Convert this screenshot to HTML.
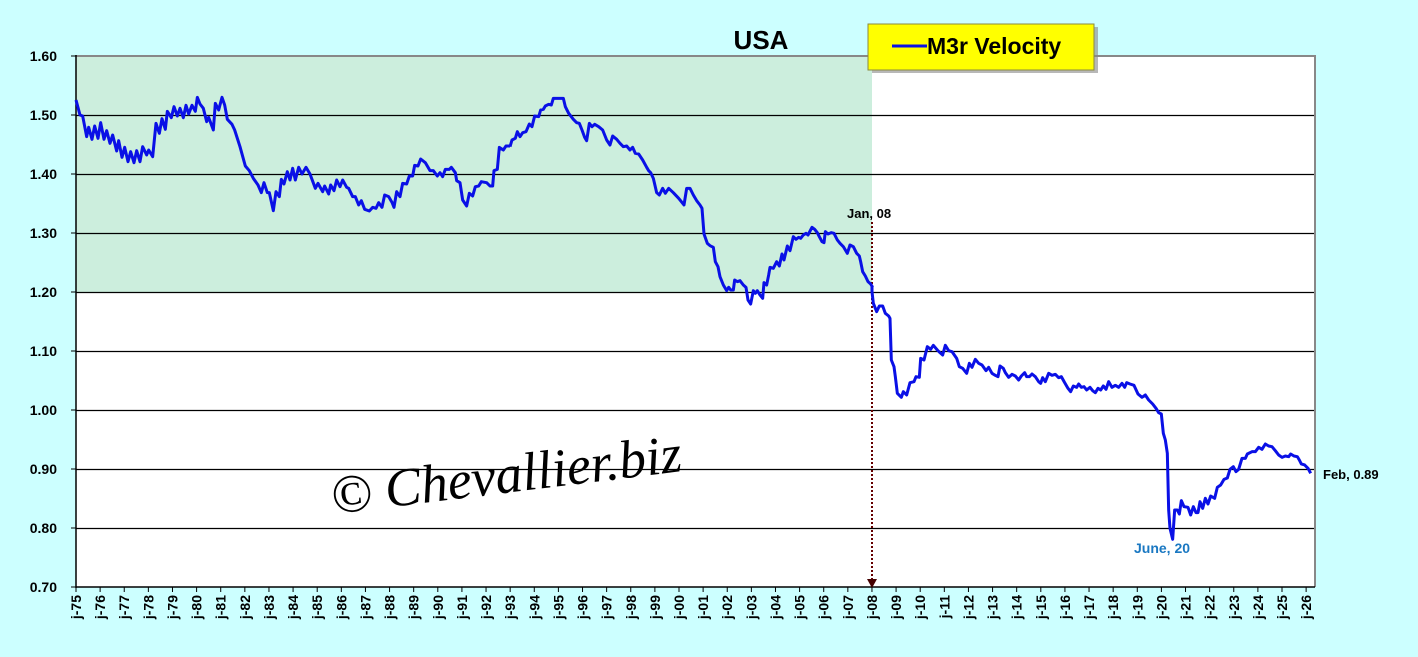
<!DOCTYPE html>
<html><head><meta charset="utf-8"><style>
html,body{margin:0;padding:0;background:#ccffff;width:1418px;height:657px;overflow:hidden}
text{font-family:"Liberation Sans",Arial,sans-serif;font-weight:bold}
</style></head><body>
<svg width="1418" height="657" viewBox="0 0 1418 657" xmlns="http://www.w3.org/2000/svg">
<rect x="0" y="0" width="1418" height="657" fill="#ccffff"/>
<rect x="76" y="56" width="1239" height="531" fill="#fff"/>
<rect x="76" y="56" width="796" height="236" fill="#cceedd"/>
<g stroke="#000" stroke-width="1.2">
<line x1="76" x2="1315" y1="115.5" y2="115.5"/><line x1="76" x2="1315" y1="174.5" y2="174.5"/>
<line x1="76" x2="1315" y1="233.5" y2="233.5"/><line x1="76" x2="1315" y1="292.5" y2="292.5"/>
<line x1="76" x2="1315" y1="351.5" y2="351.5"/><line x1="76" x2="1315" y1="410.5" y2="410.5"/>
<line x1="76" x2="1315" y1="469.5" y2="469.5"/><line x1="76" x2="1315" y1="528.5" y2="528.5"/>
</g>
<line x1="76" x2="1316" y1="56" y2="56" stroke="#888" stroke-width="2"/>
<line x1="1315" x2="1315" y1="56" y2="587" stroke="#888" stroke-width="2"/>
<line x1="76" x2="76" y1="55" y2="588" stroke="#000" stroke-width="1.5"/>
<line x1="76" x2="1315" y1="587" y2="587" stroke="#000" stroke-width="1.5"/>
<g stroke="#000">
<line x1="71" x2="76" y1="56" y2="56"/><line x1="71" x2="76" y1="115" y2="115"/><line x1="71" x2="76" y1="174" y2="174"/><line x1="71" x2="76" y1="233" y2="233"/><line x1="71" x2="76" y1="292" y2="292"/><line x1="71" x2="76" y1="351" y2="351"/><line x1="71" x2="76" y1="410" y2="410"/><line x1="71" x2="76" y1="469" y2="469"/><line x1="71" x2="76" y1="528" y2="528"/><line x1="71" x2="76" y1="587" y2="587"/>
</g>
<g font-size="14" text-anchor="end">
<text x="57" y="61">1.60</text><text x="57" y="120">1.50</text><text x="57" y="179">1.40</text><text x="57" y="238">1.30</text><text x="57" y="297">1.20</text><text x="57" y="356">1.10</text><text x="57" y="415">1.00</text><text x="57" y="474">0.90</text><text x="57" y="533">0.80</text><text x="57" y="592">0.70</text>
</g>
<text x="333" y="514" transform="rotate(-7 333 514)" font-style="italic" font-size="54" fill="#000" style="font-family:'Liberation Serif',serif;font-weight:normal">© Chevallier.biz</text>
<line x1="872" x2="872" y1="222" y2="580" stroke="#600" stroke-width="2" stroke-dasharray="2,2"/>
<polygon points="867,579 877,579 872,588" fill="#400"/>
<g fill="none" stroke="#0a10e6" stroke-width="3" stroke-linejoin="round">
<polyline vector-effect="non-scaling-stroke" transform="translate(60,40) scale(0.33333)" points="48,180 60,225 68,228 80,290 86,262 96,298 104,258 114,295 122,248 132,298 140,272 150,310 158,285 170,333 176,302 186,352 194,322 204,365 212,335 222,368 230,332 240,365 248,320 260,345 266,330 278,350 288,250 298,280 306,236 316,268 322,214 334,233 342,200 352,228 360,205 370,233 378,196 386,222 396,196 406,214 412,172 420,192 430,205 440,245 446,232 460,270 466,190 476,210 486,172 494,195 502,238 516,253 524,270 540,320 556,378 568,392 580,415 594,435 604,458 612,428 622,458 628,458 640,512 648,455 658,470 664,418 672,432 682,395 690,420 698,385 706,420 716,382 726,402 738,382 750,402 766,445 774,430 788,455 794,438 806,462 812,435 822,452 830,420 840,440 848,420 860,442 866,445 878,470 886,470 896,495 904,482 914,508 928,513 938,502 948,505 956,488 966,502 974,465 986,470 996,487 1002,502 1010,455 1020,470 1028,430 1040,432 1048,408 1058,408 1064,376 1074,378 1082,357 1096,368 1110,392 1120,392 1132,408 1140,398 1148,410 1156,388 1168,388 1174,382 1186,398 1190,422 1200,428 1208,480 1220,498 1228,460 1238,468 1246,440 1256,438 1264,425 1280,428 1290,438 1298,438 1302,392 1312,388 1318,322 1330,330 1338,318 1350,318"/>
<polyline vector-effect="non-scaling-stroke" transform="translate(480,80) scale(0.33333)" points="90,200 96,180 106,175 112,155 120,170 128,158 138,155 148,132 156,140 164,108 176,110 182,90 190,88 196,78 206,73 214,75 220,55 250,55 256,80 266,100 280,118 290,128 298,130 306,150 314,172 320,182 328,130 336,140 344,133 356,140 368,150 380,180 390,195 398,168 410,178 420,190 430,200 440,198 450,210 458,202 466,220 476,222 488,240 500,262 506,272 512,278 520,295 530,338 538,345 548,325 556,340 566,325 580,338 596,355 612,375 620,325 630,325 640,345 650,362 660,375 666,385 672,462 682,490 690,497 700,502 706,545 714,560 720,590 730,615 740,632 746,622 752,630 760,630 764,600 772,605 780,602 790,615 798,622 804,660 812,672 820,632 826,640 832,632 840,645 848,655 852,608 860,615 866,585 870,562 880,565 890,545 898,558 906,522 912,540 922,498 930,512 940,470 948,478 956,472 962,475 970,465 978,460 984,465 996,442 1004,448 1012,458 1018,470 1026,485 1032,488 1036,455 1044,462 1054,458 1062,460 1072,480 1080,490 1090,500 1102,520 1110,495 1120,500 1130,520 1138,528 1142,545 1148,575 1156,588 1164,605 1172,612 1178,622"/>
<polyline vector-effect="non-scaling-stroke" transform="translate(860,280) scale(0.33333)" points="36,20 36,35 40,70 50,95 58,78 68,78 76,100 86,108 90,115 94,240 102,260 106,290 112,340 124,352 130,335 140,345 150,308 162,305 168,290 178,292 182,235 192,240 202,200 212,208 220,196 232,210 240,218 248,225 256,196 266,212 276,215 290,235 298,260 308,265 320,280 328,250 336,262 346,238 356,250 366,255 378,272 386,262 396,280 404,285 414,290 420,258 430,265 436,278 446,292 456,283 466,288 476,300 484,288 494,278 500,290 508,290 516,282 526,290 536,305 542,310 548,293 556,305 566,280 576,286 586,283 596,293 604,290 614,308 624,325 632,335 640,318 650,322 656,312 664,322 672,320 680,330 690,322 698,332 706,338 714,325 722,330 730,318 738,328 746,305 756,322 766,316 776,322 786,310 794,322 800,308 810,312 822,316 834,342 846,352 856,345 866,360 878,372 888,385 896,398 904,402 910,460 916,480 922,520 926,690 930,745 938,778 944,690 952,690 958,702 964,662 972,680 984,682 992,705 1000,680 1008,698 1014,698 1020,665 1028,685 1036,655 1044,672 1052,648 1064,655 1072,622 1082,615 1092,598 1102,594 1110,568 1120,560 1128,575 1136,568 1146,535 1156,535 1162,522 1176,515 1186,515 1196,502 1206,508 1216,492 1226,498 1236,500 1246,512 1256,525 1266,532 1276,528 1286,530 1292,522 1302,528 1312,530 1318,540 1324,552 1334,555 1344,565 1352,580"/>
</g>
<text x="847" y="218" font-size="13">Jan, 08</text>
<text x="1323" y="479" font-size="13">Feb, 0.89</text>
<text x="1134" y="553" font-size="14" fill="#1a78c2">June, 20</text>
<text x="761" y="49" font-size="26" text-anchor="middle">USA</text>
<rect x="872" y="27" width="226" height="46" fill="#888" opacity="0.6"/>
<rect x="868" y="24" width="226" height="46" fill="#ffff00" stroke="#8a8a40" stroke-width="1"/>
<line x1="892" x2="927" y1="46" y2="46" stroke="#0a10e6" stroke-width="3"/>
<text x="927" y="54" font-size="23">M3r Velocity</text>
<g font-size="14" id="xlabels"></g>
<script>
var g=document.getElementById('xlabels'),ns='http://www.w3.org/2000/svg';
for(var k=0;k<52;k++){var y=(75+k)%100;var lab='j-'+(y<10?'0':'')+y;var x=76+k*24.12;
var l=document.createElementNS(ns,'line');l.setAttribute('x1',x);l.setAttribute('x2',x);l.setAttribute('y1',587);l.setAttribute('y2',592);l.setAttribute('stroke','#000');g.appendChild(l);
var t=document.createElementNS(ns,'text');t.setAttribute('transform','translate('+(x+5)+',595) rotate(-90)');t.setAttribute('text-anchor','end');t.textContent=lab;g.appendChild(t);}
</script>
</svg>
</body></html>
